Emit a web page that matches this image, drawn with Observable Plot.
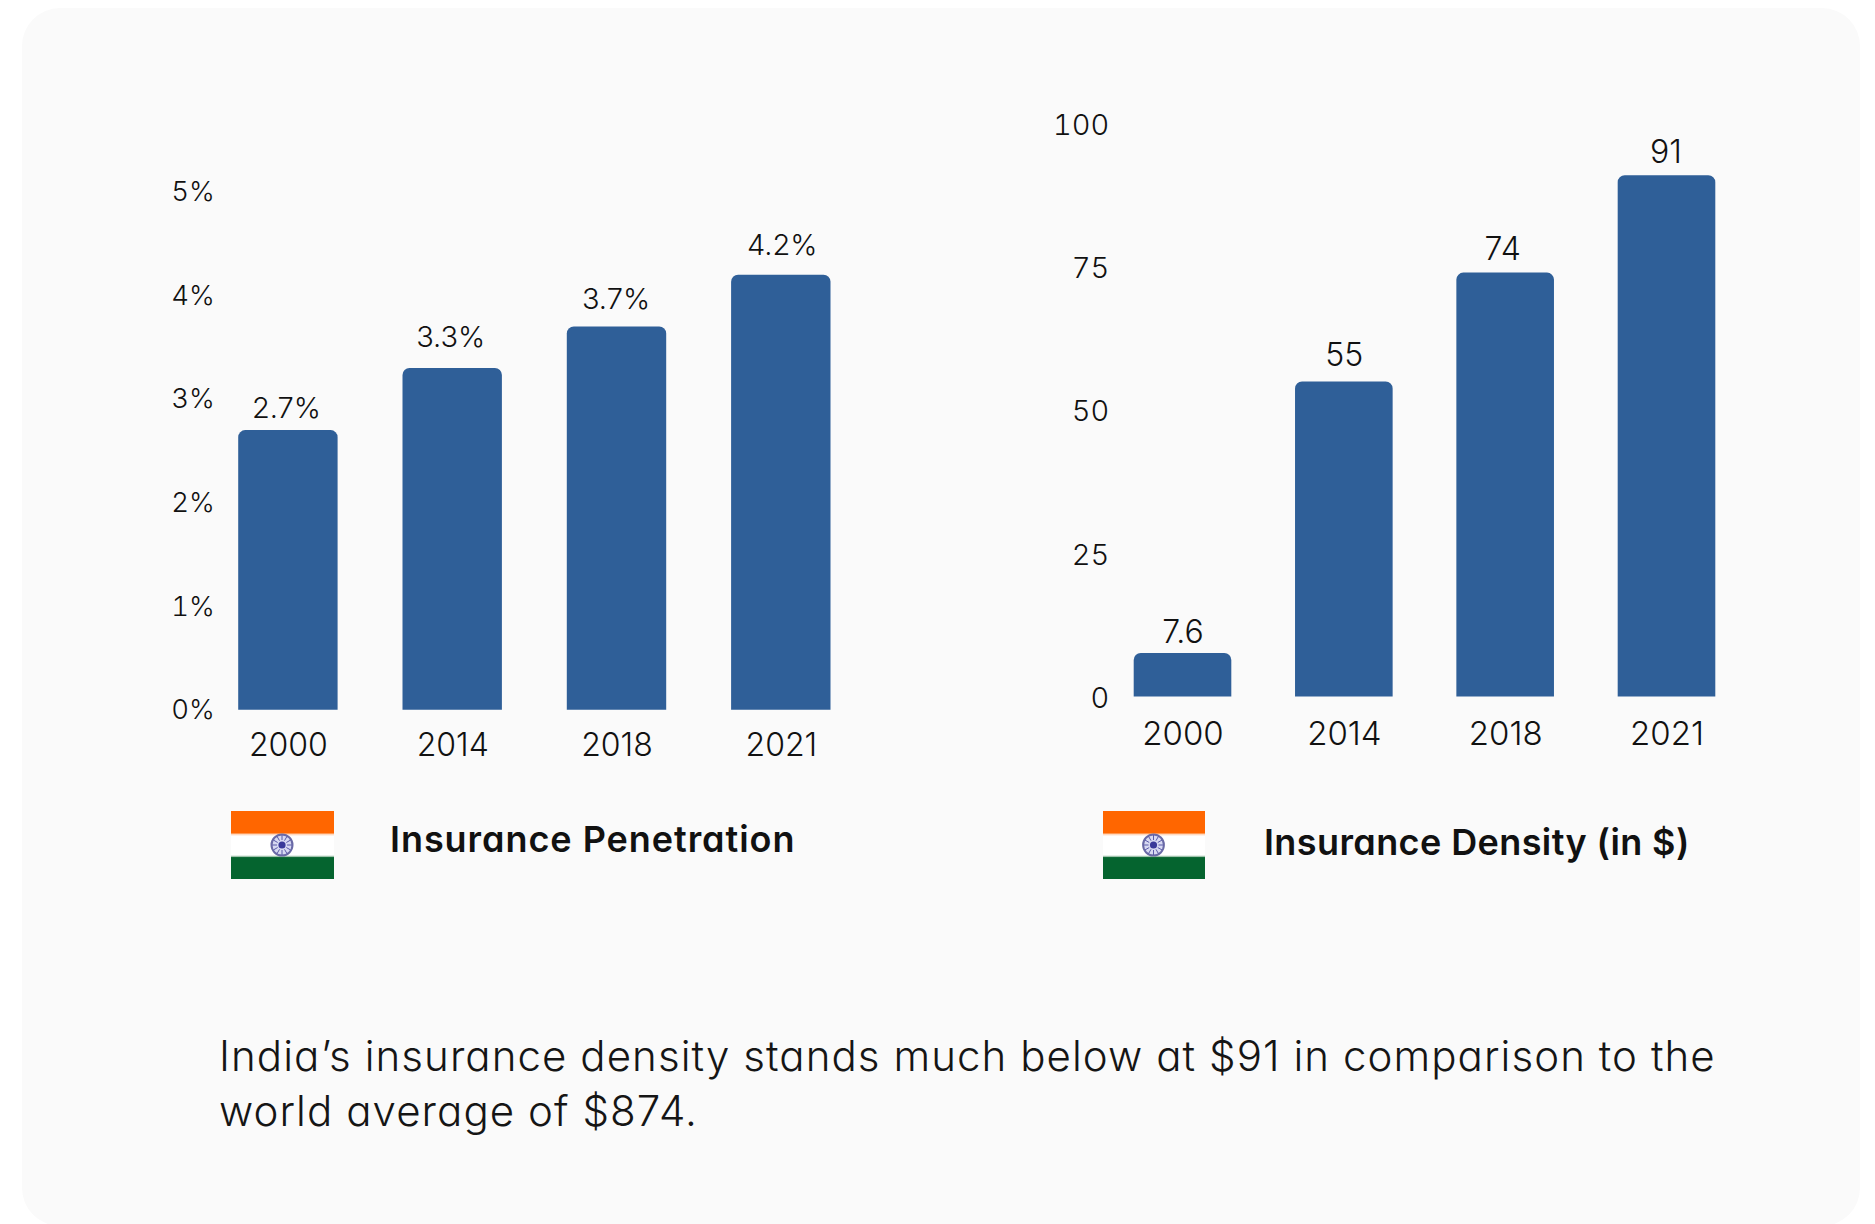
<!DOCTYPE html>
<html>
<head>
<meta charset="utf-8">
<script src="https://cdn.jsdelivr.net/npm/d3@7"></script>
<script src="https://cdn.jsdelivr.net/npm/@observablehq/plot@0.6"></script>
<style>
  html, body { margin: 0; padding: 0; background: #fff; width: 1875px; height: 1224px; overflow: hidden; }
  body { position: relative; font-family: Inter, Lato, sans-serif; color: #111; font-feature-settings: "cv11" 1; }
  #panel { position: absolute; left: 22px; top: 8px; width: 1838px; height: 1218px; background: #fafafa; border-radius: 38px; }
  .chart { position: absolute; top: 0; }
  .chart svg { display: block; background: transparent; overflow: visible; }
  .title { position: absolute; font-weight: 600; font-size: 36px; line-height: 44px; white-space: nowrap; color: #111; }
  .caption { position: absolute; left: 219px; font-weight: 300; font-size: 42px; line-height: 54px; letter-spacing: 1.07px; white-space: nowrap; color: #151515; }
  .flag { position: absolute; }
</style>
</head>
<body>
<div id="panel"></div>
<div class="chart" id="left" style="left:0"></div>
<div class="chart" id="right" style="left:940px"></div>
<div class="title" style="left:390px;top:817px;letter-spacing:0.95px">Insurance Penetration</div>
<div class="title" style="left:1264px;top:820px;letter-spacing:0.4px">Insurance Density (in $)</div>
<div class="caption" style="top:1029px">India’s insurance density stands much below at $91 in comparison to the</div>
<div class="caption" style="top:1084px">world average of $874.</div>
<script>
const years = ["2000", "2014", "2018", "2021"];
const penetration = [2.7, 3.3, 3.7, 4.2];
const density = [7.6, 55, 74, 91];
const penetrationTicks = [0, 1, 2, 3, 4, 5];
const densityTicks = [0, 25, 50, 75, 100];

const barColor = "#2f5f98";
const axisFont = "Inter, Lato, sans-serif";

function chart(host, values, ticks, fmt, o) {
  const rows = years.map((year, i) => ({year, value: values[i], i}));
  const svg = Plot.plot({
    width: o.width,
    height: 800,
    marginLeft: o.left,
    marginRight: o.width - o.right,
    marginTop: o.top,
    marginBottom: 800 - o.bottom,
    style: {fontFamily: axisFont, fontSize: "29px", fontWeight: 300, background: "transparent", color: "#111", fontFeatureSettings: '"cv11" 1'},
    x: {domain: years, paddingInner: 0.395, paddingOuter: 0, round: false},
    y: {domain: [0, ticks[ticks.length - 1]]},
    marks: [
      Plot.barY(rows, {x: "year", y: "value", fill: barColor, ry1: 7}),
      Plot.axisX({tickSize: 0, tickPadding: o.xPad, label: null, fontSize: o.xFont, fill: "#111"}),
      Plot.axisY({ticks, tickFormat: fmt, tickSize: 0, tickPadding: o.yPad, dy: o.yDy, label: null, fontSize: o.yFont, fill: "#111"}),
      ...rows.map(r => Plot.text([r], {x: "year", y: "value", text: d => fmt(d.value), dy: o.labelDy[r.i], dx: o.labelDx[r.i], fontSize: o.valueFont, fill: "#111"}))
    ]
  });
  document.getElementById(host).append(svg);
}

chart("left", penetration, penetrationTicks, d => d + "%", {
  width: 900, left: 238.2, right: 830.5, top: 191.8, bottom: 709.8, xPad: 23, yPad: 24, yDy: 0,
  xFont: 32, yFont: 27.5, valueFont: 29,
  labelDy: [-22, -31, -27, -29], labelDx: [-2, -2, -1, 1]
});
chart("right", density, densityTicks, d => String(d), {
  width: 900, left: 193.7, right: 775.3, top: 123.6, bottom: 696.6, xPad: 24, yPad: 25, yDy: 1.5,
  xFont: 33, yFont: 29, valueFont: 32,
  labelDy: [-21, -26, -23, -23], labelDx: [0, 0, -3, -1]
});

// Indian flags, decorative
function flag(x, y, w, h) {
  const ns = "http://www.w3.org/2000/svg";
  const id = "f" + x;
  const wrap = document.createElement("div");
  wrap.className = "flag";
  wrap.style.cssText = `left:${x}px;top:${y}px;width:${w}px;height:${h}px`;
  const spokes = d3.range(12).map(i => {
    const a = i * Math.PI / 6;
    return `<line x1="${51 + 5 * Math.cos(a)}" y1="${34 + 5 * Math.sin(a)}" x2="${51 + 10 * Math.cos(a)}" y2="${34 + 10 * Math.sin(a)}" stroke="#5a5aa8" stroke-width="1"/>`;
  }).join("");
  wrap.innerHTML = `<svg xmlns="${ns}" width="${w}" height="${h}" viewBox="0 0 103 68" preserveAspectRatio="none" style="display:block">
    <defs><linearGradient id="${id}" x1="0" y1="0" x2="0" y2="1">
      <stop offset="0.32" stop-color="#ff6600"/><stop offset="0.345" stop-color="#ffd9bf"/><stop offset="0.37" stop-color="#fff"/>
      <stop offset="0.645" stop-color="#fff"/><stop offset="0.665" stop-color="#c8dccd"/><stop offset="0.685" stop-color="#05642f"/>
    </linearGradient></defs>
    <rect width="103" height="68" fill="url(#${id})"/>
    <g style="filter:blur(0.7px)">
      <circle cx="51" cy="34" r="10.5" fill="#d7d9f2" stroke="#6a6aa6" stroke-width="2"/>
      ${spokes}
      <circle cx="51" cy="34" r="3.6" fill="#3a3a9a"/>
    </g>
  </svg>`;
  document.body.append(wrap);
}
flag(231, 811, 103, 68);
flag(1103, 811, 102, 68);
</script>
</body>
</html>
